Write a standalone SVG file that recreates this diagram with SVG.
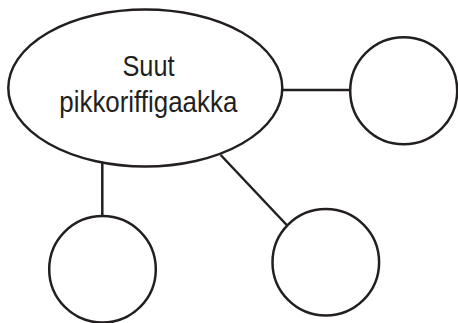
<svg xmlns="http://www.w3.org/2000/svg" width="458" height="323" viewBox="0 0 458 323">
<style>
.n{fill:#fff;stroke:#231f20;stroke-width:2.5}
.c{stroke:#231f20;stroke-width:2.5;fill:none}
.t{font-family:"Liberation Sans",Arial,sans-serif;font-size:30px;fill:#231f20;text-anchor:middle}
</style>
<rect width="458" height="323" fill="#fff"/>
<g id="connectors">
<line class="c" x1="282" y1="90" x2="351" y2="90"/>
<line class="c" x1="102.3" y1="162" x2="102.3" y2="217"/>
<line class="c" x1="220.7" y1="155" x2="286.7" y2="225"/>
</g>
<g id="main">
<ellipse class="n" cx="145.3" cy="88" rx="137" ry="78.5"/>
<text class="t" x="148.5" y="76" textLength="52" lengthAdjust="spacingAndGlyphs">Suut</text>
<text class="t" x="148.3" y="111.5" textLength="178" lengthAdjust="spacingAndGlyphs">pikkoriffigaakka</text>
</g>
<g id="right"><circle class="n" cx="403.7" cy="90.8" r="53.5"/></g>
<g id="bottomleft"><circle class="n" cx="102.5" cy="269.3" r="53.3"/></g>
<g id="bottomright"><circle class="n" cx="325.8" cy="262.2" r="53.3"/></g>
</svg>
